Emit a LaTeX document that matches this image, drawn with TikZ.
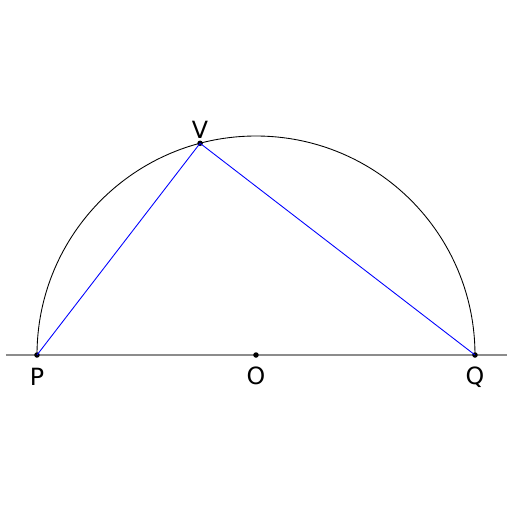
\documentclass[tikz,border=0pt]{standalone}
\usepackage{fontspec}
\setmainfont{DejaVu Sans}
\usetikzlibrary{positioning}

\begin{document}
\begin{tikzpicture}[
  font=\fontsize{13.5}{15}\selectfont,
  pt/.style={circle, fill=black, inner sep=0pt, minimum size=1.1mm},
  lbl/.style={inner sep=0pt},
  chord/.style={draw=blue, line width=0.5pt},
]
\useasboundingbox (-5.12,-3.14) rectangle (5.12,7.1);
% base line and half circle
\coordinate (west) at (-5.0,0);
\coordinate (east) at (5.02,0);
\draw[black!45, line width=0.6pt] (west) -- (east);
\draw[line width=0.5pt] (4.38,0) arc[start angle=0, end angle=180, radius=4.38];
% points
\node[pt] (O) at (0,0) {};
\node[pt] (P) at (180:4.38) {};
\node[pt] (Q) at (0:4.38) {};
\node[pt] (V) at (104.8:4.38) {};
% chords
\draw[chord] (P.center) -- (V.center) -- (Q.center);
% labels
\node[lbl] at ([yshift=-0.44cm]P.center) {P};
\node[lbl] at ([yshift=-0.42cm]O.center) {O};
\node[lbl] at ([yshift=-0.44cm]Q.center) {Q};
\node[lbl] at ([yshift=0.27cm]V.center) {V};
\end{tikzpicture}
\end{document}
